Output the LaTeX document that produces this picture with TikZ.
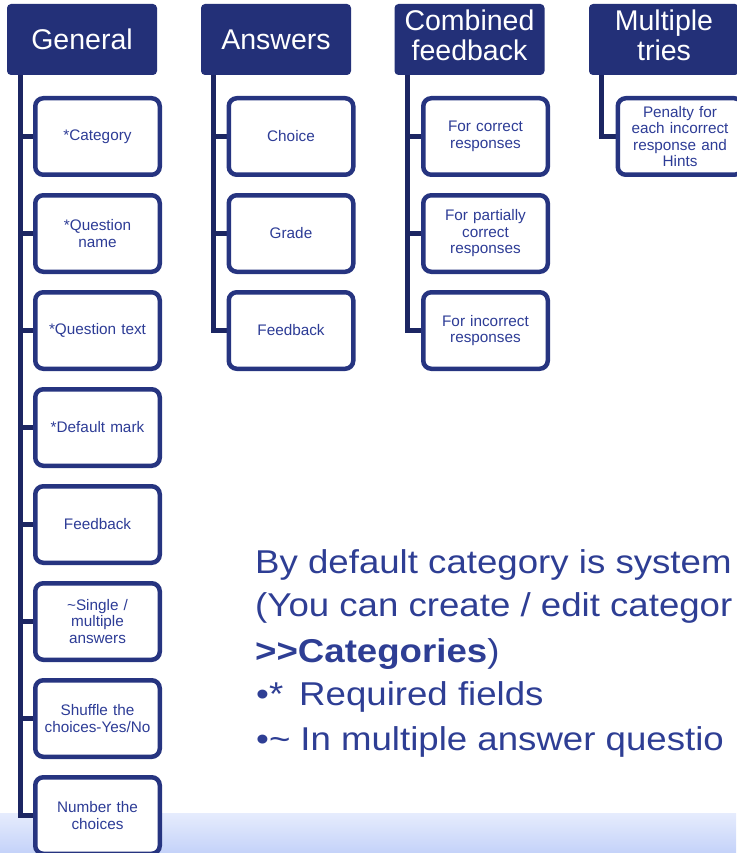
\documentclass[tikz,border=0pt]{standalone}
\usepackage{fontspec}
\setmainfont{Liberation Sans}
\newfontfamily\bigfont[FakeStretch=1.11]{Liberation Sans}
\usetikzlibrary{backgrounds}
\definecolor{hdr}{HTML}{233078}
\definecolor{brd}{HTML}{263480}
\definecolor{lnk}{HTML}{1C2663}
\definecolor{txt}{HTML}{2D3C96}
\definecolor{bigtxt}{HTML}{2E3E94}
\definecolor{bandtop}{HTML}{E6ECFD}
\definecolor{bandbot}{HTML}{C4D2F9}
\newcommand{\hdrtwo}[2]{\raisebox{4pt}{\begin{tabular}{@{}c@{}}#1\\#2\end{tabular}}}
\begin{document}
\begin{tikzpicture}[x=1pt,y=-1pt,
  hdrbox/.style={fill=hdr, rounded corners=4pt, minimum width=150pt, minimum height=71pt,
    text=white, font=\fontsize{28.5}{29}\selectfont, align=center, inner sep=0pt, outer sep=0pt},
  child/.style={draw=brd, line width=4.5pt, fill=white, rounded corners=8pt,
    minimum width=124.5pt, minimum height=76.5pt, text=txt,
    font=\fontsize{15.3}{16.5}\selectfont, align=center, inner sep=1pt, text width=120pt, outer sep=0pt},
  conn/.style={draw=lnk, line width=5pt},
  bigline/.style={anchor=base west, inner sep=0pt, text=bigtxt, font=\bigfont\fontsize{33}{40}\selectfont}]
\useasboundingbox (0,0) rectangle (736,853);

% headers
\node[hdrbox] (gen) at (82,39.5) {General};
\node[hdrbox] (ans) at (276,39.5) {Answers};
\node[hdrbox] (comb) at (469.5,39.5) {\hdrtwo{Combined}{feedback}};
\node[hdrbox] (mult) at (664,39.5) {\hdrtwo{Multiple}{tries}};

% General children
\node[child] (g1) at (97.5,136.5) {*Category};
\node[child] (g2) at (97.5,233.5) {*Question\\name};
\node[child] (g3) at (97.5,330.5) {*Question text};
\node[child] (g4) at (97.5,427.5) {*Default mark};
\node[child] (g5) at (97.5,524.5) {Feedback};
\node[child] (g6) at (97.5,621.5) {\textasciitilde Single /\\multiple\\answers};
\node[child] (g7) at (97.5,718.5) {Shuffle the\\choices-Yes/No};
\node[child] (g8) at (97.5,815.5) {Number the\\choices};

% Answers children
\node[child] (a1) at (291,136.5) {Choice};
\node[child] (a2) at (291,233.5) {Grade};
\node[child] (a3) at (291,330.5) {Feedback};

% Combined feedback children
\node[child] (c1) at (485.5,136.5) {For correct\\responses};
\node[child] (c2) at (485.5,233.5) {For partially\\correct\\responses};
\node[child] (c3) at (485.5,330.5) {For incorrect\\responses};

% Multiple tries child
\node[child] (m1) at (680,136.5) {Penalty for\\each incorrect\\response and\\Hints};

% connector tops
\coordinate (gtop) at (20,75);
\coordinate (atop) at (213,75);
\coordinate (ctop) at (407,75);
\coordinate (mtop) at (601,75);

\begin{scope}[on background layer]
  \shade[top color=bandtop, bottom color=bandbot] (0,813) rectangle (736,853);
  \foreach \n in {g1,g2,g3,g4,g5,g6,g7,g8} \draw[conn] (gtop) |- (\n.west);
  \foreach \n in {a1,a2,a3} \draw[conn] (atop) |- (\n.west);
  \foreach \n in {c1,c2,c3} \draw[conn] (ctop) |- (\n.west);
  \draw[conn] (mtop) |- (m1.west);
\end{scope}

% text block
\node[bigline] (t1) at (255,573) {By default category is system};
\node[bigline] (t2) at (255,616) {(You can create / edit categor};
\node[bigline] (t3) at (255,662) {\textbf{>{}>Categories})};
\node[bigline] (t4) at (256,705) {•*\hspace{16pt}Required fields};
\node[bigline] (t5) at (256,750) {•\textasciitilde\hspace{10pt}In multiple answer questio};
\end{tikzpicture}
\end{document}
